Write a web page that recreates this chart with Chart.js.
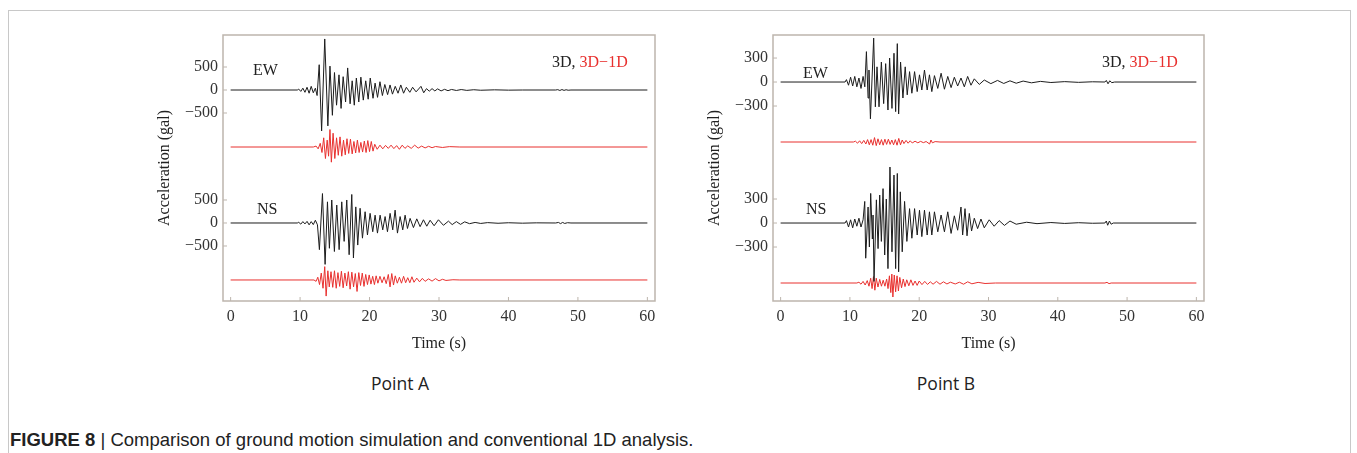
<!DOCTYPE html>
<html>
<head>
<meta charset="utf-8">
<script src="https://cdn.jsdelivr.net/npm/chart.js@4.4.0/dist/chart.umd.min.js"></script>
<style>
  body { margin: 0; width: 1357px; height: 453px; background: #fff; position: relative; overflow: hidden; }
  .frame { position: absolute; left: 8px; top: 10px; width: 1343px; height: 470px; border: 1px solid #c8c8c8; box-sizing: border-box; }
  .box { position: absolute; top: 30px; width: 515px; height: 330px; }
  .lbl { position: absolute; font: 16px "Liberation Serif", serif; color: #222; white-space: nowrap; line-height: 1; }
  .red { color: #e8302e; }
  .point { position: absolute; top: 371px; width: 200px; text-align: center; font: 17.5px "Open Sans", sans-serif; color: #222; }
  .caption { position: absolute; left: 10px; top: 429px; font: 18.5px "Liberation Sans Narrow", "Liberation Sans", sans-serif; color: #222; white-space: nowrap; }
  .caption b { font-weight: bold; }
</style>
</head>
<body>
<div class="frame"></div>

<div class="box" style="left:150px"><canvas id="chartA"></canvas></div>
<div class="box" style="left:700px"><canvas id="chartB"></canvas></div>

<div class="lbl" style="left:253px;top:62px">EW</div>
<div class="lbl" style="left:257px;top:201px">NS</div>
<div class="lbl" style="left:552px;top:54px">3D, <span class="red">3D−1D</span></div>
<div class="lbl" style="left:803px;top:65px">EW</div>
<div class="lbl" style="left:806px;top:201px">NS</div>
<div class="lbl" style="left:1102px;top:54px">3D, <span class="red">3D−1D</span></div>

<div class="point" style="left:300px">Point A</div>
<div class="point" style="left:846px">Point B</div>

<div class="caption"><b>FIGURE 8</b> | Comparison of ground motion simulation and conventional 1D analysis.</div>

<script>
// time (s), acceleration (gal)
const xTicks = [0, 10, 20, 30, 40, 50, 60];
const yTicksA = [500, 0, -500];
const yTicksB = [300, 0, -300];

// --- Point A ---
const ewA3D = [[0,0],[9.6,0],[9.8,20],[10.1,-30],[10.4,40],[10.7,-50],[11.0,60],[11.3,-70],[11.6,80],[11.9,-60],[12.2,40],[12.45,-120],[12.75,550],[13.1,-890],[13.55,1110],[14.0,-780],[14.3,520],[14.65,-550],[14.95,380],[15.25,-330],[15.6,330],[15.9,-400],[16.2,290],[16.55,-260],[16.85,480],[17.2,-300],[17.5,200],[17.8,-330],[18.1,260],[18.45,-260],[18.75,280],[19.1,-220],[19.45,200],[19.8,-200],[20.1,260],[20.5,-180],[20.8,150],[21.15,-160],[21.5,180],[21.85,-120],[22.2,120],[22.6,-100],[22.95,110],[23.3,-90],[23.7,80],[24.1,-70],[24.5,110],[24.9,-70],[25.3,60],[25.8,-50],[26.2,60],[26.7,-40],[27.4,80],[27.8,-60],[28.2,30],[28.6,-25],[29.0,30],[29.4,-20],[29.8,25],[30.3,-20],[30.8,15],[31.3,-15],[31.8,12],[32.5,-10],[33.2,10],[34.0,-8],[35.0,6],[36.0,-5],[38.0,4],[40.0,-3],[42.0,0],[46.8,0],[47.1,8],[47.4,-10],[47.7,10],[48.0,-8],[48.3,6],[48.6,-5],[49.0,0],[60,0]];
const ewADiff = [[0,0],[11.9,0],[12.3,20],[12.6,-40],[12.9,80],[13.15,-120],[13.4,200],[13.65,-250],[13.9,150],[14.1,-200],[14.3,380],[14.5,-330],[14.75,300],[15.0,-250],[15.25,200],[15.5,-180],[15.75,220],[16.0,-200],[16.25,150],[16.5,-170],[16.75,180],[17.0,-140],[17.25,170],[17.5,-150],[17.75,120],[18.0,-130],[18.25,150],[18.5,-120],[18.75,100],[19.0,-110],[19.25,130],[19.5,-120],[19.75,140],[20.0,-100],[20.25,120],[20.5,-90],[20.75,60],[21.1,-50],[21.5,40],[21.9,-40],[22.3,35],[22.7,-30],[23.1,40],[23.5,-35],[23.9,30],[24.3,-50],[24.7,40],[25.1,-30],[25.5,25],[26.0,-30],[26.5,40],[27.0,-25],[27.5,20],[28.0,-20],[28.5,15],[29.0,-15],[29.5,10],[30.5,-10],[31.5,8],[33.0,0],[60,0]];
const nsA3D = [[0,0],[9.6,0],[9.8,15],[10.1,-25],[10.4,30],[10.7,-20],[11.0,35],[11.3,-40],[11.6,30],[11.9,-35],[12.2,60],[12.5,-40],[12.78,-580],[13.22,640],[13.6,-900],[13.94,460],[14.22,-550],[14.56,500],[14.94,-620],[15.28,390],[15.62,-580],[16.0,460],[16.34,-400],[16.72,500],[17.06,-690],[17.44,620],[17.68,-760],[18.02,350],[18.3,-480],[18.64,320],[18.98,-330],[19.36,245],[19.7,-260],[20.08,210],[20.46,-190],[20.8,170],[21.14,-220],[21.52,170],[21.9,-150],[22.24,140],[22.58,-190],[22.96,210],[23.34,-150],[23.68,280],[24.02,-220],[24.4,140],[24.78,-150],[25.12,170],[25.46,-120],[25.84,100],[26.32,-100],[26.8,90],[27.28,-80],[27.76,70],[28.24,-70],[28.72,60],[29.3,-60],[29.92,70],[30.64,-50],[31.36,40],[31.9,-35],[32.5,30],[33.1,-30],[33.7,25],[34.4,-15],[35.2,12],[36.0,-10],[37.0,8],[38.5,-6],[40.0,5],[42.0,-4],[44.0,3],[46.8,0],[47.2,12],[47.5,-14],[47.8,12],[48.1,-10],[48.5,6],[49.0,0],[60,0]];
const nsADiff = [[0,0],[12.0,0],[12.3,-30],[12.55,60],[12.8,-100],[13.05,150],[13.3,-180],[13.55,290],[13.75,-350],[14.0,200],[14.2,-150],[14.45,180],[14.7,-160],[14.95,200],[15.2,-180],[15.45,160],[15.7,-140],[15.95,190],[16.2,-170],[16.45,150],[16.7,-130],[16.95,180],[17.2,-200],[17.45,170],[17.7,-150],[17.95,140],[18.2,-250],[18.45,160],[18.7,-120],[18.95,150],[19.2,-140],[19.45,120],[19.7,-100],[19.95,110],[20.2,-90],[20.45,80],[20.7,-100],[20.95,90],[21.2,-70],[21.5,80],[21.8,-60],[22.1,70],[22.4,-80],[22.7,120],[22.95,-150],[23.2,140],[23.45,-110],[23.7,90],[24.0,-70],[24.3,60],[24.6,-70],[24.9,80],[25.2,-60],[25.5,50],[25.8,-60],[26.1,70],[26.4,-50],[26.8,40],[27.2,-40],[27.6,35],[28.0,-30],[28.5,25],[29.0,-25],[29.5,30],[30.0,-20],[30.5,15],[31.0,-10],[32.0,5],[33.0,0],[60,0]];

// --- Point B ---
const ewB3D = [[0,0],[9.3,0],[9.5,30],[9.8,-40],[10.1,60],[10.4,-50],[10.7,70],[11.0,-60],[11.3,50],[11.6,-80],[11.9,70],[12.15,-60],[12.38,380],[12.62,-200],[12.75,150],[12.96,-460],[13.43,550],[13.67,-310],[13.91,190],[14.2,-310],[14.54,250],[14.87,-270],[15.16,230],[15.49,-350],[15.73,300],[16.07,-330],[16.36,360],[16.6,-370],[16.84,480],[17.03,-400],[17.31,250],[17.65,-200],[17.98,190],[18.27,-160],[18.61,130],[18.94,-140],[19.33,130],[19.71,-120],[20.04,90],[20.38,-100],[20.76,150],[21.15,-100],[21.48,90],[21.82,-120],[22.2,80],[22.68,-80],[23.16,110],[23.64,-90],[24.12,70],[24.6,-70],[25.07,60],[25.55,-50],[26.03,50],[26.51,-60],[26.99,70],[27.47,-40],[27.95,40],[28.67,-30],[29.39,25],[30.34,-20],[31.3,20],[32.2,-18],[33.1,15],[34.0,-15],[35.0,12],[36.2,-10],[37.5,8],[39.0,-6],[41.0,5],[43.0,-4],[45.0,3],[46.8,0],[47.0,20],[47.25,-22],[47.5,15],[47.8,-8],[48.2,0],[60,0]];
const ewBDiff = [[0,0],[10.5,0],[10.8,10],[11.1,-15],[11.4,15],[11.7,-20],[12.0,20],[12.3,-25],[12.55,30],[12.8,-35],[13.05,30],[13.3,-40],[13.55,55],[13.8,-45],[14.05,40],[14.3,-35],[14.55,30],[14.8,-40],[15.05,35],[15.3,-30],[15.55,35],[15.8,-30],[16.05,25],[16.3,-35],[16.55,30],[16.8,-40],[17.05,45],[17.3,-35],[17.55,25],[17.8,-20],[18.1,20],[18.4,-15],[18.7,15],[19.0,-12],[19.4,10],[19.8,-10],[20.2,8],[20.6,-8],[21.0,6],[21.5,-25],[21.7,25],[21.9,-10],[22.3,5],[23.0,0],[60,0]];
const nsB3D = [[0,0],[9.3,0],[9.5,30],[9.8,-50],[10.1,40],[10.4,-60],[10.7,50],[11.0,-40],[11.3,60],[11.6,-50],[11.9,40],[12.14,270],[12.28,-440],[12.62,200],[12.81,-300],[13.0,370],[13.24,-200],[13.34,100],[13.48,-730],[13.82,290],[14.06,-320],[14.3,350],[14.54,-230],[14.78,430],[15.02,-400],[15.25,300],[15.49,-570],[15.78,700],[16.07,-360],[16.36,600],[16.6,-570],[16.84,620],[17.03,-610],[17.27,390],[17.55,-360],[17.89,270],[18.22,-230],[18.61,180],[18.94,-190],[19.33,180],[19.71,-150],[20.04,160],[20.38,-170],[20.76,160],[21.15,-150],[21.48,140],[21.82,-150],[22.2,140],[22.68,-110],[23.16,100],[23.64,-110],[24.12,140],[24.6,-130],[25.07,90],[25.55,-90],[26.03,200],[26.27,-150],[26.61,180],[26.9,-160],[27.23,120],[27.56,-100],[27.95,60],[28.43,-70],[28.91,50],[29.39,-60],[30.1,40],[30.82,-40],[31.54,30],[32.3,-30],[33.1,25],[34.0,-15],[35.5,10],[37.0,-8],[39.0,6],[41.0,-5],[43.0,4],[45.0,-3],[46.8,0],[47.0,25],[47.2,-28],[47.45,25],[47.7,-15],[48.0,0],[60,0]];
const nsBDiff = [[0,0],[11.0,0],[11.3,10],[11.6,-15],[11.9,20],[12.2,-25],[12.5,30],[12.75,-40],[13.0,60],[13.2,-70],[13.4,80],[13.6,-90],[13.8,60],[14.05,-50],[14.3,45],[14.55,-40],[14.8,35],[15.05,-40],[15.3,50],[15.5,-70],[15.7,90],[15.9,-120],[16.05,112],[16.2,-175],[16.4,100],[16.6,-110],[16.8,90],[17.0,-100],[17.2,70],[17.45,-60],[17.7,50],[17.95,-45],[18.2,40],[18.5,-35],[18.8,40],[19.1,-30],[19.4,25],[19.7,-30],[20.0,25],[20.4,-20],[20.8,20],[21.2,-18],[21.6,15],[22.0,-15],[22.5,20],[23.0,-15],[23.5,15],[24.0,-12],[24.5,10],[25.2,-12],[25.8,10],[26.4,-15],[27.0,15],[27.6,-10],[28.5,8],[29.5,-6],[31.0,0],[46.8,0],[47.1,8],[47.4,-8],[47.7,0],[60,0]];

const BLACK = '#1c1c1c';
const RED = '#e8302e';
const FRAME = '#bdb5ad';
const MINUS = '\u2212';

// draws the box round the plot and short inward tick marks
const framePlugin = {
    id: 'frame',
    afterDraw(chart) {
        const { ctx, chartArea: a, scales } = chart;
        ctx.save();
        ctx.strokeStyle = FRAME;
        ctx.lineWidth = 1.5;
        ctx.strokeRect(a.left, a.top, a.right - a.left, a.bottom - a.top);
        ctx.lineWidth = 1;
        ctx.beginPath();
        scales.x.ticks.forEach(t => {
            const px = scales.x.getPixelForValue(t.value);
            ctx.moveTo(px, a.bottom);
            ctx.lineTo(px, a.bottom - 4);
        });
        scales.y.ticks.forEach(t => {
            const py = scales.y.getPixelForValue(t.value);
            ctx.moveTo(a.left, py);
            ctx.lineTo(a.left + 4, py);
        });
        ctx.stroke();
        ctx.restore();
    }
};

function makePanel(canvasId, traces, offsets, yTicks, yMin, yMax, rightPad) {
    const shifted = (pts, off) => pts.map(p => ({ x: p[0], y: p[1] + off }));
    const datasets = [
        { data: shifted(traces.ew, offsets.ew), borderColor: BLACK },
        { data: shifted(traces.ewDiff, offsets.ewDiff), borderColor: RED },
        { data: shifted(traces.ns, offsets.ns), borderColor: BLACK },
        { data: shifted(traces.nsDiff, offsets.nsDiff), borderColor: RED }
    ].map(d => ({ ...d, borderWidth: 1, pointRadius: 0, tension: 0, fill: false }));

    const tickFont = { family: '"Liberation Serif", serif', size: 16 };

    return new Chart(document.getElementById(canvasId), {
        type: 'line',
        data: { datasets: datasets },
        options: {
            responsive: true,
            maintainAspectRatio: false,
            animation: false,
            parsing: false,
            layout: { padding: { top: 5, right: rightPad, bottom: 0, left: 0 } },
            plugins: { legend: { display: false }, tooltip: { enabled: false } },
            scales: {
                x: {
                    type: 'linear',
                    min: -1.1,
                    max: 61.1,
                    afterBuildTicks: s => { s.ticks = xTicks.map(v => ({ value: v })); },
                    afterFit: s => { s.height = 59; s.paddingLeft = 0; s.paddingRight = 0; },
                    grid: { display: false, drawTicks: false },
                    border: { display: false },
                    ticks: { color: '#333', font: tickFont, padding: 6, maxRotation: 0 },
                    title: { display: true, text: 'Time (s)', color: '#222', font: { family: '"Liberation Serif", serif', size: 16 }, padding: { top: 0, bottom: 7 } }
                },
                y: {
                    type: 'linear',
                    min: yMin,
                    max: yMax,
                    afterBuildTicks: s => {
                        s.ticks = yTicks.map(v => ({ value: v + offsets.ew }))
                            .concat(yTicks.map(v => ({ value: v + offsets.ns })));
                    },
                    afterFit: s => { s.width = 73; s.paddingTop = 0; s.paddingBottom = 0; },
                    grid: { display: false, drawTicks: false },
                    border: { display: false },
                    ticks: {
                        color: '#333', font: tickFont, padding: 5,
                        callback: v => {
                            const off = Math.abs(v - offsets.ew) < Math.abs(v - offsets.ns) ? offsets.ew : offsets.ns;
                            const n = Math.round(v - off);
                            return n < 0 ? MINUS + Math.abs(n) : String(n);
                        }
                    },
                    title: { display: true, text: 'Acceleration (gal)', color: '#222', font: { family: '"Liberation Serif", serif', size: 16 }, padding: { top: 5, bottom: 0 } }
                }
            }
        },
        plugins: [framePlugin]
    });
}

makePanel('chartA',
    { ew: ewA3D, ewDiff: ewADiff, ns: nsA3D, nsDiff: nsADiff },
    { ew: 0, ewDiff: -1239, ns: -2891, nsDiff: -4130 },
    yTicksA, -4587, 1196, 10);

makePanel('chartB',
    { ew: ewB3D, ewDiff: ewBDiff, ns: nsB3D, nsDiff: nsBDiff },
    { ew: 0, ewDiff: -750, ns: -1763, nsDiff: -2513 },
    yTicksB, -2738, 588, 11);
</script>
</body>
</html>
